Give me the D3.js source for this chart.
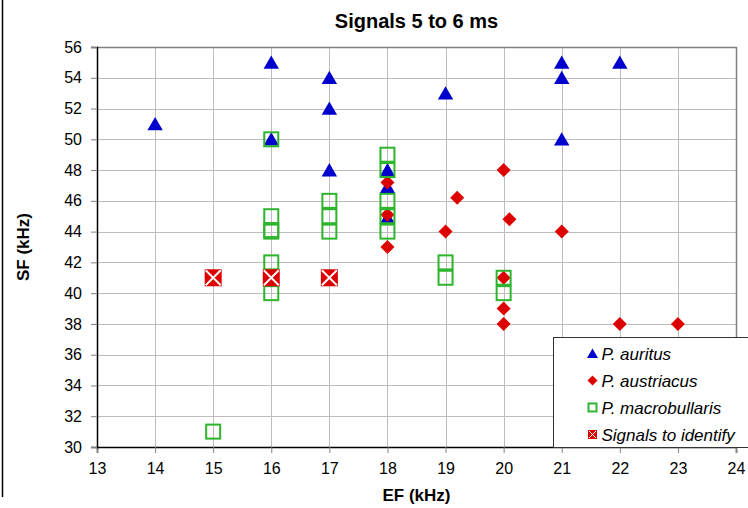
<!DOCTYPE html>
<html>
<head>
<meta charset="utf-8">
<script src="https://cdn.jsdelivr.net/npm/d3@7"></script>
<style>
  body { margin: 0; background: #fff; }
  svg { display: block; font-family: "Liberation Sans", Arial, sans-serif; }
</style>
</head>
<body>
<svg id="chart" width="748" height="508"></svg>
<script>
// P. auritus
const auritusEF = [14, 16, 16, 17, 17, 17, 18, 18, 18, 19, 21, 21, 21, 22];
const auritusSF = [51, 55, 50, 54, 52, 48, 48, 46.9, 44.9, 53, 55, 54, 50, 55];
// P. austriacus
const austriacusEF = [18, 18, 18, 19, 19.2, 20, 20.1, 20, 20, 20, 21, 22, 23];
const austriacusSF = [47.2, 45.1, 43, 44, 46.2, 48, 44.8, 41, 39, 38, 44, 38, 38];
// P. macrobullaris
const macroEF = [15, 16, 16, 16, 16, 16, 16, 17, 17, 17, 18, 18, 18, 18, 18, 19, 19, 20, 20];
const macroSF = [31, 50, 45, 44, 44.1, 42, 40, 46, 45, 44, 49, 48, 46, 45, 44, 42, 41, 41, 40];
// Signals to identify
const signalEF = [15, 16, 17];
const signalSF = [41, 41, 41];

const xTicks = d3.range(13, 25, 1);
const yTicks = d3.range(30, 57, 2);

const svg = d3.select("#chart");
const margin = {left: 97, right: 12, top: 47, bottom: 61};
const width = 748, height = 508;

const x = d3.scaleLinear().domain([13, 24]).range([margin.left, width - margin.right]);
const y = d3.scaleLinear().domain([30, 56]).range([height - margin.bottom, margin.top]);

// outer left border line
svg.append("line")
   .attr("x1", 2.5).attr("x2", 2.5).attr("y1", 0).attr("y2", 497)
   .attr("stroke", "#000").attr("stroke-width", 1.5);

// gridlines
const grid = svg.append("g");
grid.selectAll(".gx").data(xTicks.slice(1, -1)).enter().append("line")
    .attr("x1", d => Math.round(x(d)) + 0.5).attr("x2", d => Math.round(x(d)) + 0.5)
    .attr("y1", y(56)).attr("y2", y(30))
    .attr("stroke", "#bdbdbd");
grid.selectAll(".gy").data(yTicks.slice(1, -1)).enter().append("line")
    .attr("x1", x(13)).attr("x2", x(24))
    .attr("y1", d => Math.round(y(d)) + 0.5).attr("y2", d => Math.round(y(d)) + 0.5)
    .attr("stroke", "#bdbdbd");

// top & right border
svg.append("path")
   .attr("d", `M${x(13)},${y(56) + 0.5}H${x(24) + 0.5}V${y(30)}`)
   .attr("fill", "none").attr("stroke", "#808080").attr("stroke-width", 1.5);

// axes
const xAxis = svg.append("g")
   .attr("transform", `translate(0,${y(30)})`)
   .call(d3.axisBottom(x).tickValues(xTicks).tickSize(6).tickPadding(10).tickFormat(d3.format("d")));
const yAxis = svg.append("g")
   .attr("transform", `translate(${x(13)},0)`)
   .call(d3.axisLeft(y).tickValues(yTicks).tickSize(6).tickPadding(9).tickFormat(d3.format("d")));
[xAxis, yAxis].forEach(a => {
  a.select(".domain").attr("stroke", "#000").attr("stroke-width", 1.5);
  a.selectAll(".tick line").attr("stroke", "#808080");
  a.selectAll("text").attr("font-size", 16).attr("fill", "#000")
   .attr("font-family", "'Liberation Sans', Arial, sans-serif");
});

// symbols
const triangle = (g, s) => g.append("path")
   .attr("d", `M0,${-s * 0.5}L${s * 0.55},${s * 0.45}L${-s * 0.55},${s * 0.45}Z`)
   .attr("fill", "#0000cc");
const diamond = (g, s) => g.append("path")
   .attr("d", `M0,${-s / 2}L${s / 2},0L0,${s / 2}L${-s / 2},0Z`)
   .attr("fill", "#dd0000");
const openSquare = (g, s) => g.append("rect")
   .attr("x", -s / 2).attr("y", -s / 2).attr("width", s).attr("height", s)
   .attr("fill", "none").attr("stroke", "#2db52d").attr("stroke-width", 2);
const signal = (g, s) => {
  g.append("rect").attr("x", -s / 2).attr("y", -s / 2).attr("width", s).attr("height", s)
   .attr("fill", "#dd0000");
  const k = s / 2 - 1;
  g.append("path").attr("d", `M${-k},${-k}L${k},${k}M${k},${-k}L${-k},${k}`)
   .attr("stroke", "#fff").attr("stroke-width", Math.max(1, s / 9));
};

const series = [
  {name: "P. auritus", ex: auritusEF, sf: auritusSF, draw: triangle, size: 14, leg: 10},
  {name: "P. austriacus", ex: austriacusEF, sf: austriacusSF, draw: diamond, size: 14, leg: 10},
  {name: "P. macrobullaris", ex: macroEF, sf: macroSF, draw: openSquare, size: 14, leg: 8},
  {name: "Signals to identify", ex: signalEF, sf: signalSF, draw: signal, size: 17, leg: 9}
];

series.forEach(s => {
  const pts = s.ex.map((e, i) => [e, s.sf[i]]);
  svg.append("g").selectAll("g").data(pts).enter().append("g")
     .attr("transform", d => `translate(${x(d[0])},${y(d[1])})`)
     .each(function() { s.draw(d3.select(this), s.size); });
});

// title and axis labels
svg.append("text").attr("x", (x(13) + x(24)) / 2).attr("y", 28)
   .attr("text-anchor", "middle").attr("font-size", 20).attr("font-weight", "bold")
   .text("Signals 5 to 6 ms");
svg.append("text").attr("x", (x(13) + x(24)) / 2).attr("y", 501)
   .attr("text-anchor", "middle").attr("font-size", 17).attr("font-weight", "bold")
   .text("EF (kHz)");
svg.append("text").attr("transform", `translate(29,${y(43)}) rotate(-90)`)
   .attr("text-anchor", "middle").attr("font-size", 17).attr("font-weight", "bold")
   .text("SF (kHz)");

// legend
const legend = svg.append("g").attr("transform", "translate(553.5,337.5)");
legend.append("rect").attr("width", 210).attr("height", 110)
   .attr("fill", "#fff").attr("stroke", "#333").attr("stroke-width", 1);
series.forEach((s, i) => {
  const row = legend.append("g").attr("transform", `translate(39,${16 + i * 27})`);
  s.draw(row.append("g"), s.leg);
  row.append("text").attr("x", 9).attr("y", 6)
     .attr("font-size", 17).attr("font-style", "italic").text(s.name);
});
</script>
</body>
</html>
